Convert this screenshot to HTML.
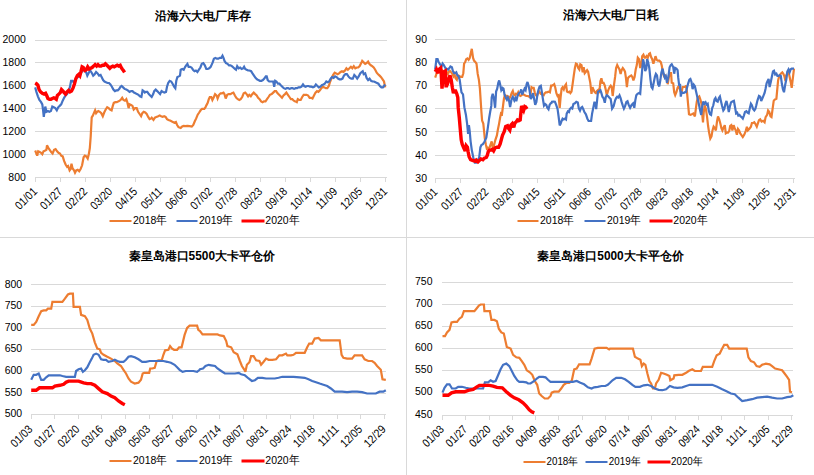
<!DOCTYPE html>
<html><head><meta charset="utf-8"><style>
html,body{margin:0;padding:0;background:#fff;width:814px;height:475px;overflow:hidden}
svg{display:block}
text{font-family:"Liberation Sans",sans-serif;fill:#000}
.tt{font-weight:bold}
</style></head><body>
<svg width="814" height="475" viewBox="0 0 814 475">
<rect width="814" height="475" fill="#fff"/>
<rect x="406" y="0" width="1" height="475" fill="#d9d9d9"/>
<rect x="0" y="237" width="814" height="1" fill="#d9d9d9"/>
<rect x="35" y="40" width="352" height="1" fill="#d9d9d9"/>
<text transform="translate(25.8 43.40) scale(1 1.12)" text-anchor="end" class="yl" style="font-size:10.5px">2000</text>
<rect x="35" y="62" width="352" height="1" fill="#d9d9d9"/>
<text transform="translate(25.8 66.28) scale(1 1.12)" text-anchor="end" class="yl" style="font-size:10.5px">1800</text>
<rect x="35" y="85" width="352" height="1" fill="#d9d9d9"/>
<text transform="translate(25.8 89.17) scale(1 1.12)" text-anchor="end" class="yl" style="font-size:10.5px">1600</text>
<rect x="35" y="108" width="352" height="1" fill="#d9d9d9"/>
<text transform="translate(25.8 112.05) scale(1 1.12)" text-anchor="end" class="yl" style="font-size:10.5px">1400</text>
<rect x="35" y="131" width="352" height="1" fill="#d9d9d9"/>
<text transform="translate(25.8 134.93) scale(1 1.12)" text-anchor="end" class="yl" style="font-size:10.5px">1200</text>
<rect x="35" y="154" width="352" height="1" fill="#d9d9d9"/>
<text transform="translate(25.8 157.82) scale(1 1.12)" text-anchor="end" class="yl" style="font-size:10.5px">1000</text>
<rect x="35" y="177" width="352" height="1" fill="#d9d9d9"/>
<text transform="translate(25.8 180.70) scale(1 1.12)" text-anchor="end" class="yl" style="font-size:10.5px">800</text>
<rect x="35" y="177" width="1" height="5" fill="#d9d9d9"/>
<text transform="translate(37.90 192.30) rotate(-45) scale(1 1.15)" text-anchor="end" class="xl" style="font-size:10.2px">01/01</text>
<rect x="60" y="177" width="1" height="5" fill="#d9d9d9"/>
<text transform="translate(62.91 192.30) rotate(-45) scale(1 1.15)" text-anchor="end" class="xl" style="font-size:10.2px">01/27</text>
<rect x="85" y="177" width="1" height="5" fill="#d9d9d9"/>
<text transform="translate(87.91 192.30) rotate(-45) scale(1 1.15)" text-anchor="end" class="xl" style="font-size:10.2px">02/22</text>
<rect x="110" y="177" width="1" height="5" fill="#d9d9d9"/>
<text transform="translate(112.92 192.30) rotate(-45) scale(1 1.15)" text-anchor="end" class="xl" style="font-size:10.2px">03/20</text>
<rect x="135" y="177" width="1" height="5" fill="#d9d9d9"/>
<text transform="translate(137.93 192.30) rotate(-45) scale(1 1.15)" text-anchor="end" class="xl" style="font-size:10.2px">04/15</text>
<rect x="160" y="177" width="1" height="5" fill="#d9d9d9"/>
<text transform="translate(162.94 192.30) rotate(-45) scale(1 1.15)" text-anchor="end" class="xl" style="font-size:10.2px">05/11</text>
<rect x="185" y="177" width="1" height="5" fill="#d9d9d9"/>
<text transform="translate(187.94 192.30) rotate(-45) scale(1 1.15)" text-anchor="end" class="xl" style="font-size:10.2px">06/06</text>
<rect x="210" y="177" width="1" height="5" fill="#d9d9d9"/>
<text transform="translate(212.95 192.30) rotate(-45) scale(1 1.15)" text-anchor="end" class="xl" style="font-size:10.2px">07/02</text>
<rect x="235" y="177" width="1" height="5" fill="#d9d9d9"/>
<text transform="translate(237.96 192.30) rotate(-45) scale(1 1.15)" text-anchor="end" class="xl" style="font-size:10.2px">07/28</text>
<rect x="260" y="177" width="1" height="5" fill="#d9d9d9"/>
<text transform="translate(262.96 192.30) rotate(-45) scale(1 1.15)" text-anchor="end" class="xl" style="font-size:10.2px">08/23</text>
<rect x="285" y="177" width="1" height="5" fill="#d9d9d9"/>
<text transform="translate(287.97 192.30) rotate(-45) scale(1 1.15)" text-anchor="end" class="xl" style="font-size:10.2px">09/18</text>
<rect x="310" y="177" width="1" height="5" fill="#d9d9d9"/>
<text transform="translate(312.98 192.30) rotate(-45) scale(1 1.15)" text-anchor="end" class="xl" style="font-size:10.2px">10/14</text>
<rect x="335" y="177" width="1" height="5" fill="#d9d9d9"/>
<text transform="translate(337.99 192.30) rotate(-45) scale(1 1.15)" text-anchor="end" class="xl" style="font-size:10.2px">11/09</text>
<rect x="360" y="177" width="1" height="5" fill="#d9d9d9"/>
<text transform="translate(362.99 192.30) rotate(-45) scale(1 1.15)" text-anchor="end" class="xl" style="font-size:10.2px">12/05</text>
<rect x="385" y="177" width="1" height="5" fill="#d9d9d9"/>
<text transform="translate(388.00 192.30) rotate(-45) scale(1 1.15)" text-anchor="end" class="xl" style="font-size:10.2px">12/31</text>
<text x="202.8" y="19.8" text-anchor="middle" class="tt" style="font-size:11.7px">沿海六大电厂库存</text>
<line x1="109.5" y1="221" x2="131.5" y2="221" stroke="#ed7d31" stroke-width="2"/>
<text transform="translate(133 224.2) scale(1 1.12)" class="lg" style="font-size:10.5px">2018年</text>
<line x1="176.5" y1="221" x2="197.5" y2="221" stroke="#4472c4" stroke-width="2"/>
<text transform="translate(199 224.2) scale(1 1.12)" class="lg" style="font-size:10.5px">2019年</text>
<line x1="241.5" y1="221" x2="264.5" y2="221" stroke="#ff0000" stroke-width="3"/>
<text transform="translate(265.3 224.2) scale(1 1.12)" class="lg" style="font-size:10.5px">2020年</text>
<polyline points="35.2,150.5 36.1,152.8 37.2,155.7 38.2,151.3 39.7,152.0 41.1,152.8 42.3,154.2 43.5,151.3 45.3,150.5 46.4,149.8 47.0,145.4 48.2,147.6 49.7,149.8 51.2,152.0 52.6,153.5 54.1,149.8 55.6,149.1 57.1,151.3 58.5,152.8 60.0,153.5 61.2,155.7 62.7,156.4 64.1,160.9 65.6,164.5 67.1,166.8 68.1,166.0 69.6,170.4 70.6,169.0 71.5,163.8 72.5,168.2 74.0,170.4 75.0,172.7 76.2,170.4 77.7,169.7 79.2,171.2 80.6,169.0 82.1,165.3 83.6,157.2 84.8,155.7 86.3,156.4 87.7,158.6 88.8,154.2 89.8,148.3 90.7,136.5 91.7,117.4 92.7,115.9 95.1,110.3 96.1,113.2 97.2,111.8 98.3,111.0 99.8,111.8 101.3,113.2 102.8,116.2 104.2,112.5 105.7,109.5 107.2,107.3 108.7,108.1 110.1,109.5 111.6,110.3 112.8,105.9 113.8,102.9 115.3,102.2 116.8,102.2 118.2,101.4 119.7,100.7 121.2,99.2 122.2,97.8 123.4,100.0 124.9,100.7 126.3,99.2 127.5,102.9 128.6,108.1 129.6,104.4 131.1,105.1 132.5,105.9 133.7,109.5 135.2,108.1 136.7,108.1 138.1,111.8 139.6,114.0 141.1,116.2 142.3,113.2 143.7,111.8 145.2,112.5 146.7,114.0 148.2,116.9 149.6,119.1 151.1,118.4 151.7,117.7 153.5,119.9 154.9,117.7 156.4,116.9 158.2,116.2 159.7,115.4 161.1,116.2 162.6,116.9 164.1,116.2 165.6,116.9 167.0,119.1 168.5,119.9 170.0,120.6 171.5,121.3 172.9,122.1 174.4,122.8 175.9,122.1 177.1,125.0 178.5,127.2 180.7,128.0 182.2,126.5 183.7,125.8 185.2,126.1 187.4,125.8 189.6,126.1 191.8,126.5 193.3,125.0 194.8,121.3 196.2,118.4 197.7,114.7 199.2,112.5 200.6,110.3 202.1,108.8 204.3,108.8 205.4,107.3 206.5,105.1 207.7,102.9 208.8,99.2 209.8,97.0 211.3,97.0 212.4,100.0 213.9,97.0 215.1,94.1 216.6,95.5 217.6,98.5 219.1,94.8 220.6,93.3 222.0,93.3 223.5,92.6 224.5,94.1 225.7,98.5 227.2,94.8 228.7,94.1 230.4,94.1 231.9,93.3 233.4,92.6 234.9,95.5 236.3,97.8 237.8,99.2 239.3,100.0 240.7,99.2 242.2,97.0 243.7,93.3 245.2,92.6 246.6,94.1 248.1,96.3 249.3,94.8 250.8,96.3 252.2,94.1 253.7,92.6 255.2,94.1 256.7,95.5 258.1,97.8 259.6,99.2 261.1,101.4 262.6,102.2 264.0,101.4 265.5,101.4 267.0,99.2 268.5,97.0 269.9,94.8 271.7,94.1 273.2,92.6 274.7,91.1 276.1,91.1 277.6,93.3 279.1,94.8 280.6,96.3 282.0,97.8 283.5,95.5 285.0,94.1 286.4,92.6 287.9,94.8 289.4,97.0 290.9,99.2 292.3,99.2 293.8,100.7 295.3,101.4 296.8,102.2 297.8,99.2 299.3,100.0 300.7,100.0 302.2,97.0 303.7,94.8 305.2,94.8 306.6,94.8 308.1,95.5 309.6,97.8 311.1,97.8 312.5,98.5 314.0,95.5 315.5,92.6 317.0,91.1 318.4,91.9 319.9,90.4 321.4,88.2 322.9,86.7 324.3,87.4 325.8,88.2 327.3,88.2 328.8,86.0 330.2,81.5 331.7,77.9 333.2,74.9 334.7,72.7 336.1,73.4 337.6,74.2 339.1,73.4 340.6,72.0 342.0,71.2 343.5,72.0 345.0,70.5 346.4,68.3 347.9,69.7 349.4,68.3 350.9,66.8 352.3,68.3 353.8,66.1 355.3,68.3 356.8,67.5 358.2,67.5 359.7,66.1 361.2,63.1 362.2,60.9 363.7,62.4 365.2,63.8 366.6,63.1 368.1,61.6 369.3,63.8 370.8,65.3 372.2,66.1 373.7,67.5 375.2,69.7 376.7,72.7 378.1,74.2 379.6,75.6 381.1,77.1 382.6,79.3 384.0,81.5 385.2,87.4" fill="none" stroke="#ed7d31" stroke-width="2.2" stroke-linejoin="miter" stroke-miterlimit="3" stroke-linecap="butt"/>
<polyline points="35.2,87.4 36.4,91.9 37.9,96.3 39.4,100.0 41.1,102.2 42.3,104.4 43.1,110.3 43.8,116.9 44.5,111.0 45.3,106.6 46.4,111.8 47.9,111.0 49.4,111.8 50.9,111.0 52.3,106.6 53.8,107.3 55.3,108.1 56.8,110.3 58.2,107.3 59.7,105.9 61.2,104.4 62.7,100.7 64.1,97.8 65.6,95.5 67.1,94.1 68.6,91.1 70.0,86.7 71.1,80.8 72.5,80.8 73.6,82.3 75.0,80.1 76.5,77.9 78.0,77.1 79.5,74.9 80.9,72.7 82.4,71.2 83.6,69.0 85.1,70.5 86.3,72.7 87.3,75.6 88.8,72.7 90.2,70.5 91.7,72.7 93.2,75.6 94.7,74.2 96.1,72.0 97.6,73.4 99.1,75.6 100.6,74.9 101.6,77.1 103.1,80.1 104.5,81.5 106.0,82.3 107.5,83.0 109.0,83.0 110.4,84.5 111.9,86.7 113.4,89.6 114.9,91.1 116.3,90.4 117.8,90.4 119.3,88.9 120.5,86.7 121.6,86.0 123.1,87.4 124.6,88.9 126.3,89.6 127.8,90.4 129.6,91.9 131.1,91.1 132.5,91.1 134.0,92.6 135.5,93.3 137.0,94.1 138.4,94.8 139.9,96.3 141.4,97.0 142.6,90.4 143.7,91.1 144.8,92.6 145.8,91.9 147.3,91.9 148.8,94.1 150.2,95.5 151.7,97.0 153.2,94.1 154.2,91.1 155.7,89.6 157.2,91.1 158.6,92.6 160.1,94.1 161.6,91.1 163.1,91.9 164.5,92.6 166.0,91.9 167.0,86.7 168.2,83.0 169.7,80.8 171.2,81.5 172.6,83.7 174.1,86.7 175.3,88.2 176.3,80.8 177.4,77.1 178.8,76.4 180.0,75.6 180.7,69.7 182.2,69.0 183.7,69.7 185.2,66.8 186.2,65.3 187.4,63.8 188.6,66.8 190.0,66.8 191.5,67.5 193.0,69.7 194.5,71.2 195.9,70.5 197.4,72.0 198.9,69.7 200.4,67.5 201.8,63.8 203.3,63.1 204.8,65.3 206.3,69.0 207.7,69.0 209.2,68.3 210.7,66.8 211.7,64.6 212.7,62.4 213.9,58.7 215.4,57.9 216.9,58.7 218.3,58.7 219.8,57.9 221.3,57.9 222.5,55.7 223.5,57.9 224.5,60.9 226.0,63.1 227.5,63.8 229.0,65.3 230.4,65.3 231.9,66.1 233.4,67.5 234.9,69.0 236.0,69.7 237.2,66.1 238.7,68.3 240.2,67.5 241.6,69.0 243.1,68.3 244.1,66.8 245.2,69.0 246.6,69.7 248.1,70.5 249.6,70.5 251.1,71.2 252.5,73.4 254.0,75.6 255.5,77.9 257.0,79.3 258.4,80.1 259.9,80.8 261.4,80.8 262.9,80.1 264.3,78.6 265.8,76.4 266.7,76.4 267.7,80.1 269.2,81.5 270.7,81.5 271.7,81.5 273.2,81.5 274.2,86.7 275.2,80.8 276.4,81.5 277.9,83.7 279.4,83.7 280.8,85.2 282.3,86.7 283.8,88.2 285.3,88.9 286.7,88.2 288.2,88.2 289.7,88.9 291.2,88.2 292.6,88.2 294.1,88.9 295.6,88.2 297.1,88.2 298.5,87.4 300.0,87.4 301.5,86.7 303.0,84.5 304.1,86.0 305.6,86.7 307.1,86.0 308.6,86.0 310.0,86.7 311.5,86.7 313.0,87.4 314.5,86.7 315.9,84.5 317.4,86.0 318.9,87.4 320.4,86.7 321.8,85.2 323.3,84.5 324.8,83.7 326.3,81.5 327.7,82.3 329.2,81.5 330.7,78.6 332.1,77.1 333.6,77.9 335.1,76.4 336.6,77.1 338.0,78.6 339.5,79.3 341.0,79.3 342.5,78.6 343.9,75.6 345.4,74.2 346.9,74.2 348.4,76.4 349.8,77.9 351.3,78.6 352.8,78.6 354.3,74.9 355.7,76.4 357.2,78.6 358.7,76.4 360.2,73.4 361.6,72.0 362.7,71.2 363.7,74.2 365.2,73.4 366.6,77.9 368.1,80.1 369.6,78.6 371.1,80.8 372.5,81.5 374.0,81.5 375.5,82.3 377.0,83.0 378.4,83.7 379.9,86.0 381.4,87.4 382.9,87.4 384.0,86.0 385.2,84.5" fill="none" stroke="#4472c4" stroke-width="2.2" stroke-linejoin="miter" stroke-miterlimit="3" stroke-linecap="butt"/>
<polyline points="35.2,83.0 36.4,83.7 37.9,85.2 39.1,89.6 40.6,91.9 42.3,93.3 44.1,94.1 45.6,93.3 46.7,95.5 47.9,98.5 49.4,99.2 50.9,99.2 52.3,98.5 53.8,97.8 55.3,98.5 56.3,99.2 57.4,95.5 58.8,94.1 60.3,92.6 61.5,89.6 63.0,91.1 64.1,92.6 65.6,94.1 67.1,91.9 68.6,90.4 70.0,91.9 71.5,91.1 73.0,88.2 74.5,83.7 75.9,78.6 77.4,75.6 78.9,74.2 79.9,75.6 80.9,72.0 82.1,66.8 83.3,67.5 84.8,70.5 86.3,69.7 87.7,66.8 89.2,69.0 90.7,68.3 92.1,67.5 93.6,66.1 95.1,64.6 96.6,66.1 98.0,64.6 99.5,66.1 101.0,66.1 102.5,65.3 103.9,65.3 105.4,63.8 106.9,65.3 108.4,66.8 109.8,68.3 111.3,66.8 112.8,66.1 114.3,66.8 115.7,66.1 117.2,65.3 118.7,66.1 120.2,65.3 121.2,67.5 122.2,69.0 123.4,70.5 124.6,72.4" fill="none" stroke="#ff0000" stroke-width="3.4" stroke-linejoin="miter" stroke-miterlimit="3" stroke-linecap="butt"/>
<rect x="435" y="39" width="360" height="1" fill="#d9d9d9"/>
<text transform="translate(427 43.10) scale(1 1.12)" text-anchor="end" class="yl" style="font-size:10.5px">90</text>
<rect x="435" y="62" width="360" height="1" fill="#d9d9d9"/>
<text transform="translate(427 66.25) scale(1 1.12)" text-anchor="end" class="yl" style="font-size:10.5px">80</text>
<rect x="435" y="85" width="360" height="1" fill="#d9d9d9"/>
<text transform="translate(427 89.40) scale(1 1.12)" text-anchor="end" class="yl" style="font-size:10.5px">70</text>
<rect x="435" y="108" width="360" height="1" fill="#d9d9d9"/>
<text transform="translate(427 112.55) scale(1 1.12)" text-anchor="end" class="yl" style="font-size:10.5px">60</text>
<rect x="435" y="131" width="360" height="1" fill="#d9d9d9"/>
<text transform="translate(427 135.70) scale(1 1.12)" text-anchor="end" class="yl" style="font-size:10.5px">50</text>
<rect x="435" y="155" width="360" height="1" fill="#d9d9d9"/>
<text transform="translate(427 158.85) scale(1 1.12)" text-anchor="end" class="yl" style="font-size:10.5px">40</text>
<rect x="435" y="178" width="360" height="1" fill="#d9d9d9"/>
<text transform="translate(427 182.00) scale(1 1.12)" text-anchor="end" class="yl" style="font-size:10.5px">30</text>
<rect x="435" y="178" width="1" height="5" fill="#d9d9d9"/>
<text transform="translate(438.20 192.80) rotate(-45) scale(1 1.15)" text-anchor="end" class="xl" style="font-size:10.2px">01/01</text>
<rect x="460" y="178" width="1" height="5" fill="#d9d9d9"/>
<text transform="translate(463.79 192.80) rotate(-45) scale(1 1.15)" text-anchor="end" class="xl" style="font-size:10.2px">01/27</text>
<rect x="486" y="178" width="1" height="5" fill="#d9d9d9"/>
<text transform="translate(489.37 192.80) rotate(-45) scale(1 1.15)" text-anchor="end" class="xl" style="font-size:10.2px">02/22</text>
<rect x="512" y="178" width="1" height="5" fill="#d9d9d9"/>
<text transform="translate(514.96 192.80) rotate(-45) scale(1 1.15)" text-anchor="end" class="xl" style="font-size:10.2px">03/20</text>
<rect x="537" y="178" width="1" height="5" fill="#d9d9d9"/>
<text transform="translate(540.54 192.80) rotate(-45) scale(1 1.15)" text-anchor="end" class="xl" style="font-size:10.2px">04/15</text>
<rect x="563" y="178" width="1" height="5" fill="#d9d9d9"/>
<text transform="translate(566.13 192.80) rotate(-45) scale(1 1.15)" text-anchor="end" class="xl" style="font-size:10.2px">05/11</text>
<rect x="588" y="178" width="1" height="5" fill="#d9d9d9"/>
<text transform="translate(591.71 192.80) rotate(-45) scale(1 1.15)" text-anchor="end" class="xl" style="font-size:10.2px">06/06</text>
<rect x="614" y="178" width="1" height="5" fill="#d9d9d9"/>
<text transform="translate(617.30 192.80) rotate(-45) scale(1 1.15)" text-anchor="end" class="xl" style="font-size:10.2px">07/02</text>
<rect x="640" y="178" width="1" height="5" fill="#d9d9d9"/>
<text transform="translate(642.89 192.80) rotate(-45) scale(1 1.15)" text-anchor="end" class="xl" style="font-size:10.2px">07/28</text>
<rect x="665" y="178" width="1" height="5" fill="#d9d9d9"/>
<text transform="translate(668.47 192.80) rotate(-45) scale(1 1.15)" text-anchor="end" class="xl" style="font-size:10.2px">08/23</text>
<rect x="691" y="178" width="1" height="5" fill="#d9d9d9"/>
<text transform="translate(694.06 192.80) rotate(-45) scale(1 1.15)" text-anchor="end" class="xl" style="font-size:10.2px">09/18</text>
<rect x="716" y="178" width="1" height="5" fill="#d9d9d9"/>
<text transform="translate(719.64 192.80) rotate(-45) scale(1 1.15)" text-anchor="end" class="xl" style="font-size:10.2px">10/14</text>
<rect x="742" y="178" width="1" height="5" fill="#d9d9d9"/>
<text transform="translate(745.23 192.80) rotate(-45) scale(1 1.15)" text-anchor="end" class="xl" style="font-size:10.2px">11/09</text>
<rect x="768" y="178" width="1" height="5" fill="#d9d9d9"/>
<text transform="translate(770.81 192.80) rotate(-45) scale(1 1.15)" text-anchor="end" class="xl" style="font-size:10.2px">12/05</text>
<rect x="793" y="178" width="1" height="5" fill="#d9d9d9"/>
<text transform="translate(796.40 192.80) rotate(-45) scale(1 1.15)" text-anchor="end" class="xl" style="font-size:10.2px">12/31</text>
<text x="610.8" y="18.6" text-anchor="middle" class="tt" style="font-size:11.7px">沿海六大电厂日耗</text>
<line x1="517.5" y1="221" x2="538.5" y2="221" stroke="#ed7d31" stroke-width="2"/>
<text transform="translate(540 224.2) scale(1 1.12)" class="lg" style="font-size:10.5px">2018年</text>
<line x1="584.5" y1="221" x2="605.5" y2="221" stroke="#4472c4" stroke-width="2"/>
<text transform="translate(607 224.2) scale(1 1.12)" class="lg" style="font-size:10.5px">2019年</text>
<line x1="649.5" y1="221" x2="672.5" y2="221" stroke="#ff0000" stroke-width="3"/>
<text transform="translate(673.3 224.2) scale(1 1.12)" class="lg" style="font-size:10.5px">2020年</text>
<polyline points="435.2,77.6 436.4,73.9 437.6,71.7 438.6,70.2 440.1,70.2 441.1,68.7 442.3,71.0 443.1,73.9 444.1,72.4 445.0,73.2 446.0,69.5 446.7,71.7 447.9,73.9 449.0,71.7 450.0,71.0 451.2,72.4 452.3,73.9 453.4,76.1 454.4,73.9 455.6,78.3 456.8,79.8 457.8,75.4 459.3,76.1 460.7,76.9 462.2,76.9 463.3,73.2 464.1,63.6 465.2,62.1 466.2,59.2 467.4,58.4 468.6,59.9 469.6,58.4 470.6,54.0 471.8,48.8 473.0,57.7 474.0,60.6 475.5,62.1 476.5,63.6 477.7,73.9 478.9,79.8 479.9,88.6 481.4,111.8 482.1,120.6 483.3,123.6 483.9,129.5 484.8,138.3 485.8,144.2 486.8,148.6 487.7,147.9 488.8,150.1 490.2,145.7 491.7,141.3 492.7,147.9 493.9,145.7 495.4,139.8 496.9,135.4 497.9,129.5 499.1,123.6 500.1,117.7 501.0,113.3 502.0,114.0 503.9,99.0 505.0,94.5 506.0,97.5 507.2,96.0 508.4,96.8 509.4,98.2 510.4,96.8 511.6,93.1 512.8,90.9 513.8,94.5 514.9,95.3 516.0,93.8 517.2,94.5 518.2,92.3 519.3,95.3 520.5,96.0 521.6,95.3 522.7,93.8 523.7,94.5 524.9,95.3 526.3,96.0 527.8,96.0 529.3,96.8 530.5,94.5 531.5,87.2 532.5,87.9 533.7,87.9 534.9,93.1 535.9,95.3 537.0,96.0 538.1,93.1 539.3,91.6 540.8,93.8 542.3,94.5 543.7,95.3 544.8,93.1 545.8,92.3 547.0,92.3 548.5,91.6 549.9,92.3 551.1,85.7 552.0,85.7 553.2,85.0 554.2,84.2 555.2,87.2 556.4,93.1 557.6,96.0 558.6,95.3 559.7,107.8 560.6,97.5 561.6,88.6 562.6,87.2 563.8,89.4 565.0,85.7 566.0,84.2 567.0,91.6 568.2,92.3 569.4,91.6 570.4,93.1 571.5,91.6 572.6,84.2 573.8,75.4 574.9,68.0 575.9,63.6 577.1,64.3 578.2,68.0 579.3,69.5 580.3,64.3 581.5,65.1 582.7,72.4 583.7,67.3 584.7,73.2 585.9,71.7 587.1,70.2 588.1,71.7 589.1,76.9 590.3,82.8 591.5,93.8 592.5,87.2 593.6,90.1 594.8,92.3 595.9,93.1 597.0,90.9 598.0,90.1 599.2,93.1 600.4,81.3 601.4,78.3 602.4,82.8 603.6,82.8 604.8,85.7 605.8,90.1 606.8,95.3 608.0,90.9 609.5,87.2 610.7,85.7 611.7,87.2 612.7,96.0 613.9,85.7 615.1,76.9 616.1,68.0 617.2,65.1 618.3,67.3 619.5,69.5 620.6,73.9 621.6,70.2 622.8,68.0 623.9,69.5 625.0,71.7 626.0,78.3 626.9,87.2 627.9,78.3 629.0,76.9 630.1,76.1 631.3,75.4 632.3,76.9 633.4,80.5 634.6,76.9 635.7,69.5 636.8,65.1 637.8,57.7 639.0,59.2 640.2,68.0 641.2,65.1 642.2,56.2 643.4,54.7 644.6,57.7 645.6,57.7 646.6,56.2 647.8,57.7 649.0,54.0 650.0,53.3 651.1,57.0 652.2,59.2 653.4,63.6 654.5,59.9 655.5,56.2 656.7,59.9 657.8,60.6 659.3,60.6 660.8,62.1 661.8,65.8 662.9,72.4 664.0,76.1 665.2,75.4 666.7,77.6 667.7,84.2 668.8,77.6 669.9,73.2 671.1,73.2 671.7,82.8 673.2,83.3 674.2,92.2 675.2,95.1 676.4,92.2 677.6,87.8 678.6,86.3 679.7,88.5 680.6,91.4 681.6,92.2 682.6,87.0 683.8,87.0 685.3,87.0 686.0,85.5 687.0,92.2 689.0,114.2 690.4,114.9 691.9,114.2 693.4,113.4 694.9,116.4 695.9,108.3 696.8,101.6 697.8,97.9 699.3,96.5 700.3,99.4 701.5,103.8 702.2,114.2 703.0,122.3 703.7,112.7 704.7,105.3 705.9,109.0 707.1,117.1 708.1,126.0 709.1,132.6 710.3,138.5 711.5,136.3 712.5,130.4 713.6,126.7 714.8,128.2 715.9,130.4 717.0,121.5 718.0,116.4 719.2,119.3 720.4,123.7 721.4,128.2 722.4,130.4 723.6,127.4 724.8,125.2 725.8,133.3 726.8,132.6 728.0,132.6 729.2,131.1 730.2,126.0 731.3,125.2 732.4,130.4 733.6,125.2 734.7,128.2 735.7,130.4 736.9,134.8 738.0,128.9 739.1,130.4 740.1,133.3 741.3,134.8 742.8,137.0 744.2,134.8 745.7,131.1 746.9,126.7 747.9,130.4 749.4,128.9 750.9,126.7 751.9,123.0 753.1,123.0 754.3,122.3 755.3,123.7 756.8,126.7 757.8,123.7 759.0,120.1 760.2,119.3 761.6,121.5 763.1,120.8 764.6,122.3 765.6,117.1 767.1,114.9 768.1,110.5 769.3,112.0 770.5,116.4 771.5,117.1 772.5,109.7 773.7,100.9 774.9,99.4 776.4,98.7 778.1,80.4 779.3,76.0 780.8,73.7 782.3,72.3 783.3,73.7 784.3,76.0 785.5,81.1 786.3,75.2 787.3,73.0 788.5,71.5 789.6,76.7 790.7,81.9 791.7,87.8 794.0,68.7" fill="none" stroke="#ed7d31" stroke-width="2.2" stroke-linejoin="miter" stroke-miterlimit="3" stroke-linecap="butt"/>
<polyline points="435.2,69.5 436.4,59.2 437.6,59.2 438.6,62.1 440.1,64.3 441.6,66.5 442.6,63.6 443.8,65.1 445.3,68.0 446.7,68.7 448.2,69.5 449.4,68.0 450.4,66.5 451.9,67.3 452.9,71.0 454.1,73.2 455.3,73.2 456.3,72.4 457.4,75.4 458.5,76.1 459.7,79.8 460.7,87.2 461.5,92.3 463.0,94.5 464.4,107.4 465.9,114.7 467.1,123.6 468.1,133.9 468.9,125.1 469.7,131.0 470.6,141.3 471.8,150.1 473.3,157.5 474.8,162.7 476.2,162.7 477.7,160.4 479.2,157.5 480.4,147.2 481.4,145.0 482.9,144.2 484.3,142.0 486.3,137.6 487.7,128.7 489.2,117.7 490.2,111.8 491.3,105.9 491.7,97.5 492.7,93.8 493.9,98.2 495.1,107.8 496.1,91.6 497.2,88.6 498.3,82.8 499.2,80.5 500.1,84.2 501.3,90.1 502.5,87.9 503.5,88.6 504.5,94.5 505.7,97.5 506.9,99.7 507.9,97.5 509.0,100.4 510.1,107.1 511.6,99.0 512.8,96.8 514.3,100.4 515.3,98.2 516.3,101.2 517.5,96.0 519.0,93.1 520.2,92.3 521.2,89.4 522.2,94.5 523.4,91.6 524.6,88.6 525.6,90.1 526.6,84.2 527.5,82.0 528.6,85.7 529.6,90.9 530.8,99.0 532.0,96.8 533.0,93.1 534.0,98.2 535.2,104.9 536.4,101.9 537.4,94.5 538.4,90.1 539.6,86.4 540.8,85.7 541.8,91.6 542.9,99.0 544.0,105.6 545.2,104.1 546.3,104.9 547.3,107.8 548.5,109.3 549.6,104.9 550.7,103.4 551.7,102.7 552.0,101.8 553.5,101.5 554.9,101.8 556.1,104.7 557.6,109.2 558.6,116.5 559.7,125.4 560.6,123.9 561.6,121.0 562.6,118.7 563.8,119.5 565.0,118.7 566.0,119.5 566.7,113.6 567.9,111.4 569.0,112.1 569.7,109.2 571.2,107.7 572.3,108.4 573.4,104.0 574.9,103.3 576.3,101.8 577.8,102.5 578.8,108.4 580.0,110.6 581.2,107.7 582.2,107.0 583.3,109.2 584.4,112.1 585.9,114.3 587.4,118.7 588.6,121.0 590.0,121.0 591.1,121.0 592.1,113.6 593.3,107.7 594.5,101.8 595.5,104.7 596.2,109.2 598.0,91.6 599.2,90.9 600.4,90.1 601.4,93.1 602.4,96.8 603.6,98.2 604.8,102.7 605.8,96.8 606.8,95.3 608.0,96.0 609.2,97.5 610.7,99.0 612.1,108.6 613.6,106.3 615.1,100.4 616.1,98.2 617.2,96.8 618.3,97.5 619.5,95.3 620.6,98.2 621.6,101.9 622.8,105.6 623.9,108.6 625.0,106.3 626.4,101.9 627.5,101.2 628.7,104.9 630.1,107.8 631.6,104.9 633.1,103.4 634.3,107.8 635.3,100.4 636.3,95.3 637.5,93.8 639.0,93.1 640.2,93.8 641.2,81.3 642.2,69.5 643.1,59.2 644.1,63.6 645.2,71.0 646.3,68.7 647.1,59.2 648.1,62.1 649.3,68.0 650.5,79.8 651.5,87.2 652.5,88.6 653.7,82.8 654.9,76.9 655.9,73.9 657.0,75.4 658.1,84.2 659.3,86.4 660.4,79.8 661.4,72.4 662.6,68.7 663.7,73.9 664.8,77.6 665.8,76.1 667.0,82.8 668.5,76.1 669.6,67.3 670.7,65.1 671.7,64.3 673.2,67.1 674.2,73.7 675.2,67.9 676.4,68.6 677.6,70.1 678.2,77.4 679.1,84.8 680.1,84.8 680.8,96.6 681.6,92.2 682.6,92.9 683.8,92.9 685.0,92.2 686.0,92.2 687.0,87.8 688.2,83.3 689.4,79.6 690.4,78.9 691.5,81.9 692.6,89.2 693.8,84.8 694.9,86.3 695.9,90.7 697.1,95.9 698.8,103.8 700.0,109.7 701.2,114.9 702.2,106.8 703.3,101.6 704.4,103.8 705.6,102.4 706.6,104.6 707.7,103.8 708.9,111.2 710.0,114.2 711.1,114.9 712.1,108.3 713.3,105.3 714.5,99.4 715.5,97.9 716.5,100.9 717.7,101.6 718.9,97.9 719.9,96.5 720.9,100.9 722.1,106.1 723.3,110.5 724.3,109.0 725.4,103.8 726.5,100.9 727.7,106.1 728.8,112.0 729.8,106.8 731.0,102.4 732.4,101.6 733.9,100.9 735.1,107.5 736.1,113.4 737.2,112.7 738.3,115.6 739.5,114.9 740.6,116.4 741.6,117.1 742.8,118.6 743.9,115.6 745.0,112.0 746.4,111.2 747.5,112.7 748.7,113.4 749.8,108.3 750.9,103.8 751.9,105.3 753.1,109.0 754.3,110.5 755.3,109.0 756.3,105.3 757.5,100.3 759.0,95.9 760.2,96.6 761.2,101.0 762.2,98.8 763.4,95.9 764.6,92.9 765.6,88.5 766.6,83.3 767.5,81.1 768.6,78.9 769.6,87.0 770.8,81.9 772.0,76.0 773.0,71.5 774.0,70.8 775.2,74.5 776.4,73.7 777.4,76.0 778.4,76.0 779.6,75.2 780.8,76.0 781.8,83.3 782.9,89.2 784.0,92.2 785.2,84.8 786.3,79.6 787.3,71.5 788.5,69.3 789.6,72.3 790.7,69.3 791.7,68.6 794.0,68.7" fill="none" stroke="#4472c4" stroke-width="2.2" stroke-linejoin="miter" stroke-miterlimit="3" stroke-linecap="butt"/>
<polyline points="435.2,71.7 436.4,69.5 437.6,73.2 438.6,70.2 439.7,68.7 440.6,68.0 441.1,71.7 442.0,88.6 443.1,76.9 444.1,71.7 445.3,71.0 446.0,85.7 446.7,85.7 447.9,82.8 449.0,78.3 450.0,75.4 451.2,79.8 452.3,87.2 453.4,93.1 454.4,90.9 455.6,90.9 456.8,93.8 457.8,97.5 458.2,107.4 459.3,117.7 460.3,129.5 461.2,139.8 462.2,144.2 463.7,147.9 465.2,150.9 466.2,145.7 467.4,147.2 468.1,151.6 469.1,156.8 470.6,159.7 472.5,160.4 474.8,161.2 476.2,160.1 478.0,161.9 479.5,160.4 480.9,159.0 482.9,159.7 484.3,158.2 486.3,157.5 487.3,155.3 488.3,151.6 489.5,150.1 491.0,150.1 492.4,149.4 493.6,150.9 495.1,147.9 496.9,147.2 498.6,147.2 500.1,144.2 501.3,139.8 502.5,135.4 504.2,131.7 505.7,126.5 507.5,125.8 508.7,128.7 509.8,130.2 510.9,125.1 512.3,123.6 513.8,127.3 514.9,122.9 516.0,122.1 517.5,119.9 519.0,120.6 520.2,119.9 520.7,114.7 521.6,105.9 522.7,108.1 523.7,110.3 524.9,106.6 526.3,107.4 527.5,106.6" fill="none" stroke="#ff0000" stroke-width="3.4" stroke-linejoin="miter" stroke-miterlimit="3" stroke-linecap="butt"/>
<rect x="31" y="284" width="355" height="1" fill="#d9d9d9"/>
<text transform="translate(22.2 287.50) scale(1 1.12)" text-anchor="end" class="yl" style="font-size:10.5px">800</text>
<rect x="31" y="306" width="355" height="1" fill="#d9d9d9"/>
<text transform="translate(22.2 309.13) scale(1 1.12)" text-anchor="end" class="yl" style="font-size:10.5px">750</text>
<rect x="31" y="328" width="355" height="1" fill="#d9d9d9"/>
<text transform="translate(22.2 330.77) scale(1 1.12)" text-anchor="end" class="yl" style="font-size:10.5px">700</text>
<rect x="31" y="349" width="355" height="1" fill="#d9d9d9"/>
<text transform="translate(22.2 352.40) scale(1 1.12)" text-anchor="end" class="yl" style="font-size:10.5px">650</text>
<rect x="31" y="371" width="355" height="1" fill="#d9d9d9"/>
<text transform="translate(22.2 374.03) scale(1 1.12)" text-anchor="end" class="yl" style="font-size:10.5px">600</text>
<rect x="31" y="393" width="355" height="1" fill="#d9d9d9"/>
<text transform="translate(22.2 395.67) scale(1 1.12)" text-anchor="end" class="yl" style="font-size:10.5px">550</text>
<rect x="31" y="414" width="355" height="1" fill="#d9d9d9"/>
<text transform="translate(22.2 417.30) scale(1 1.12)" text-anchor="end" class="yl" style="font-size:10.5px">500</text>
<rect x="31" y="414" width="1" height="5" fill="#d9d9d9"/>
<text transform="translate(33.30 430.00) rotate(-45) scale(1 1.15)" text-anchor="end" class="xl" style="font-size:10.2px">01/03</text>
<rect x="54" y="414" width="1" height="5" fill="#d9d9d9"/>
<text transform="translate(56.85 430.00) rotate(-45) scale(1 1.15)" text-anchor="end" class="xl" style="font-size:10.2px">01/27</text>
<rect x="78" y="414" width="1" height="5" fill="#d9d9d9"/>
<text transform="translate(80.39 430.00) rotate(-45) scale(1 1.15)" text-anchor="end" class="xl" style="font-size:10.2px">02/20</text>
<rect x="101" y="414" width="1" height="5" fill="#d9d9d9"/>
<text transform="translate(103.94 430.00) rotate(-45) scale(1 1.15)" text-anchor="end" class="xl" style="font-size:10.2px">03/16</text>
<rect x="125" y="414" width="1" height="5" fill="#d9d9d9"/>
<text transform="translate(127.49 430.00) rotate(-45) scale(1 1.15)" text-anchor="end" class="xl" style="font-size:10.2px">04/09</text>
<rect x="149" y="414" width="1" height="5" fill="#d9d9d9"/>
<text transform="translate(151.03 430.00) rotate(-45) scale(1 1.15)" text-anchor="end" class="xl" style="font-size:10.2px">05/03</text>
<rect x="172" y="414" width="1" height="5" fill="#d9d9d9"/>
<text transform="translate(174.58 430.00) rotate(-45) scale(1 1.15)" text-anchor="end" class="xl" style="font-size:10.2px">05/27</text>
<rect x="196" y="414" width="1" height="5" fill="#d9d9d9"/>
<text transform="translate(198.13 430.00) rotate(-45) scale(1 1.15)" text-anchor="end" class="xl" style="font-size:10.2px">06/20</text>
<rect x="219" y="414" width="1" height="5" fill="#d9d9d9"/>
<text transform="translate(221.67 430.00) rotate(-45) scale(1 1.15)" text-anchor="end" class="xl" style="font-size:10.2px">07/14</text>
<rect x="243" y="414" width="1" height="5" fill="#d9d9d9"/>
<text transform="translate(245.22 430.00) rotate(-45) scale(1 1.15)" text-anchor="end" class="xl" style="font-size:10.2px">08/07</text>
<rect x="266" y="414" width="1" height="5" fill="#d9d9d9"/>
<text transform="translate(268.77 430.00) rotate(-45) scale(1 1.15)" text-anchor="end" class="xl" style="font-size:10.2px">08/31</text>
<rect x="290" y="414" width="1" height="5" fill="#d9d9d9"/>
<text transform="translate(292.31 430.00) rotate(-45) scale(1 1.15)" text-anchor="end" class="xl" style="font-size:10.2px">09/24</text>
<rect x="313" y="414" width="1" height="5" fill="#d9d9d9"/>
<text transform="translate(315.86 430.00) rotate(-45) scale(1 1.15)" text-anchor="end" class="xl" style="font-size:10.2px">10/18</text>
<rect x="337" y="414" width="1" height="5" fill="#d9d9d9"/>
<text transform="translate(339.41 430.00) rotate(-45) scale(1 1.15)" text-anchor="end" class="xl" style="font-size:10.2px">11/11</text>
<rect x="360" y="414" width="1" height="5" fill="#d9d9d9"/>
<text transform="translate(362.95 430.00) rotate(-45) scale(1 1.15)" text-anchor="end" class="xl" style="font-size:10.2px">12/05</text>
<rect x="384" y="414" width="1" height="5" fill="#d9d9d9"/>
<text transform="translate(386.50 430.00) rotate(-45) scale(1 1.15)" text-anchor="end" class="xl" style="font-size:10.2px">12/29</text>
<text x="201.8" y="260.0" text-anchor="middle" class="tt" style="font-size:11.9px">秦皇岛港口5500大卡平仓价</text>
<line x1="109.5" y1="461" x2="131.5" y2="461" stroke="#ed7d31" stroke-width="2"/>
<text transform="translate(133 464.2) scale(1 1.12)" class="lg" style="font-size:10.5px">2018年</text>
<line x1="176.5" y1="461" x2="197.5" y2="461" stroke="#4472c4" stroke-width="2"/>
<text transform="translate(199 464.2) scale(1 1.12)" class="lg" style="font-size:10.5px">2019年</text>
<line x1="241.5" y1="461" x2="264.5" y2="461" stroke="#ff0000" stroke-width="3"/>
<text transform="translate(265.3 464.2) scale(1 1.12)" class="lg" style="font-size:10.5px">2020年</text>
<polyline points="31.2,324.9 33.7,324.9 36.2,321.9 38.7,316.2 41.2,311.2 43.7,310.4 46.2,310.4 47.9,308.7 51.2,308.7 52.4,301.9 54.9,301.9 58.7,301.9 62.4,301.9 64.9,298.7 67.9,294.5 69.9,293.7 72.9,293.7 73.6,306.9 77.4,306.9 79.9,306.9 81.1,314.9 84.9,316.2 87.3,319.9 89.8,328.6 92.3,333.6 94.8,342.3 97.3,348.6 99.8,349.3 101.1,352.8 103.6,354.8 107.3,356.8 111.0,358.6 114.8,361.0 117.3,363.5 121.0,366.0 123.5,369.8 126.0,373.5 128.5,378.5 131.0,381.7 134.7,383.5 138.5,382.7 141.0,379.8 142.7,373.5 144.2,372.8 147.2,372.8 149.2,372.8 150.2,368.5 152.2,368.5 154.7,367.8 156.7,361.0 158.4,360.3 161.7,360.3 163.4,354.8 165.1,350.3 168.4,349.8 170.1,346.1 172.1,348.6 174.1,349.8 177.1,349.8 179.1,347.3 181.6,347.3 184.6,334.9 187.1,327.9 189.6,325.6 192.1,325.6 194.6,325.6 197.1,325.6 198.3,329.9 200.0,331.1 202.5,334.4 206.2,334.4 210.0,334.4 213.7,334.4 217.5,334.4 220.0,335.4 223.7,336.1 226.2,341.1 227.4,346.1 231.2,347.3 233.7,352.3 237.4,354.3 239.9,361.0 241.9,366.0 244.4,369.8 245.4,371.8 246.9,364.8 249.4,362.3 251.1,356.1 253.6,356.1 256.1,360.3 259.4,361.0 261.1,364.8 263.6,361.8 266.1,358.6 268.6,359.8 272.3,359.8 276.1,359.3 279.3,355.3 282.3,355.3 286.0,353.6 287.3,355.3 291.0,355.3 293.5,354.8 296.0,352.8 299.8,352.8 304.7,352.8 307.2,347.3 309.2,343.6 312.2,343.6 314.7,338.6 318.5,337.9 320.9,340.3 324.7,340.3 329.7,340.3 334.7,340.3 339.7,340.3 341.6,354.8 343.4,357.8 347.1,358.6 352.1,358.6 354.6,355.3 359.6,355.3 362.1,355.3 364.6,359.3 368.3,361.0 372.1,361.0 374.6,362.8 377.1,366.0 380.8,369.8 382.5,379.3 385.8,379.8" fill="none" stroke="#ed7d31" stroke-width="2.2" stroke-linejoin="miter" stroke-miterlimit="3" stroke-linecap="butt"/>
<polyline points="31.2,379.8 33.7,374.8 36.2,374.8 38.7,373.5 41.2,379.8 43.7,379.8 46.2,377.3 48.7,375.3 52.4,375.3 56.2,375.3 59.9,375.3 62.4,376.0 66.1,376.8 69.9,376.8 73.6,376.8 74.9,376.8 76.1,371.0 78.6,369.3 81.1,368.5 82.9,371.8 84.9,370.3 87.3,367.3 89.8,362.3 91.8,358.6 93.6,354.8 96.1,353.6 98.6,354.8 101.1,359.3 103.6,359.8 106.0,359.8 108.5,361.8 112.3,361.0 114.8,359.8 117.3,361.0 119.8,361.8 123.5,361.8 126.0,359.8 128.5,356.8 131.0,356.1 134.7,357.3 138.5,359.3 142.2,361.8 145.9,361.8 149.7,361.0 152.2,361.0 155.9,361.0 159.7,361.0 163.4,361.0 167.1,361.8 170.9,362.8 174.6,364.8 177.1,367.3 179.6,369.8 182.6,371.8 185.8,371.0 189.6,371.0 193.3,371.0 197.1,371.8 199.6,369.8 200.0,369.3 203.0,368.5 205.5,366.0 208.7,364.8 211.2,365.3 215.0,366.0 217.5,368.5 221.2,371.0 224.9,373.5 229.9,373.5 234.9,373.5 238.7,372.8 241.1,374.3 244.9,375.3 248.6,378.5 251.9,381.0 254.9,380.2 257.9,377.8 262.3,377.8 266.1,378.5 271.1,378.5 274.8,378.5 278.6,377.8 282.3,376.8 287.3,376.8 293.5,376.8 299.8,377.3 304.7,377.8 308.5,379.3 312.2,381.0 316.0,382.2 319.7,383.5 323.4,384.7 327.2,386.0 330.9,388.5 334.7,391.7 338.4,391.7 342.1,391.7 347.1,392.2 352.1,391.7 357.1,391.7 362.1,392.2 367.1,393.5 372.1,393.5 375.8,393.5 379.6,391.7 383.3,391.7 385.8,390.2" fill="none" stroke="#4472c4" stroke-width="2.2" stroke-linejoin="miter" stroke-miterlimit="3" stroke-linecap="butt"/>
<polyline points="31.2,390.3 36.2,390.3 39.5,387.8 45.0,387.8 52.4,387.8 54.9,386.1 59.9,385.3 63.7,384.3 66.1,382.3 68.6,381.1 73.6,381.1 78.6,381.1 83.6,382.8 87.3,383.6 91.1,383.6 94.8,385.3 98.6,388.6 102.3,391.8 107.3,393.6 111.0,396.1 114.8,397.8 118.5,401.0 122.3,403.5 124.8,404.8" fill="none" stroke="#ff0000" stroke-width="3.4" stroke-linejoin="miter" stroke-miterlimit="3" stroke-linecap="butt"/>
<rect x="442" y="282" width="351" height="1" fill="#d9d9d9"/>
<text transform="translate(432.5 284.60) scale(1 1.12)" text-anchor="end" class="yl" style="font-size:10.5px">750</text>
<rect x="442" y="304" width="351" height="1" fill="#d9d9d9"/>
<text transform="translate(432.5 306.77) scale(1 1.12)" text-anchor="end" class="yl" style="font-size:10.5px">700</text>
<rect x="442" y="326" width="351" height="1" fill="#d9d9d9"/>
<text transform="translate(432.5 328.93) scale(1 1.12)" text-anchor="end" class="yl" style="font-size:10.5px">650</text>
<rect x="442" y="348" width="351" height="1" fill="#d9d9d9"/>
<text transform="translate(432.5 351.10) scale(1 1.12)" text-anchor="end" class="yl" style="font-size:10.5px">600</text>
<rect x="442" y="370" width="351" height="1" fill="#d9d9d9"/>
<text transform="translate(432.5 373.27) scale(1 1.12)" text-anchor="end" class="yl" style="font-size:10.5px">550</text>
<rect x="442" y="393" width="351" height="1" fill="#d9d9d9"/>
<text transform="translate(432.5 395.43) scale(1 1.12)" text-anchor="end" class="yl" style="font-size:10.5px">500</text>
<rect x="442" y="415" width="351" height="1" fill="#d9d9d9"/>
<text transform="translate(432.5 417.60) scale(1 1.12)" text-anchor="end" class="yl" style="font-size:10.5px">450</text>
<rect x="442" y="415" width="1" height="5" fill="#d9d9d9"/>
<text transform="translate(444.80 430.10) rotate(-45) scale(1 1.15)" text-anchor="end" class="xl" style="font-size:10.0px">01/03</text>
<rect x="465" y="415" width="1" height="5" fill="#d9d9d9"/>
<text transform="translate(468.06 430.10) rotate(-45) scale(1 1.15)" text-anchor="end" class="xl" style="font-size:10.0px">01/27</text>
<rect x="489" y="415" width="1" height="5" fill="#d9d9d9"/>
<text transform="translate(491.32 430.10) rotate(-45) scale(1 1.15)" text-anchor="end" class="xl" style="font-size:10.0px">02/20</text>
<rect x="512" y="415" width="1" height="5" fill="#d9d9d9"/>
<text transform="translate(514.58 430.10) rotate(-45) scale(1 1.15)" text-anchor="end" class="xl" style="font-size:10.0px">03/16</text>
<rect x="535" y="415" width="1" height="5" fill="#d9d9d9"/>
<text transform="translate(537.84 430.10) rotate(-45) scale(1 1.15)" text-anchor="end" class="xl" style="font-size:10.0px">04/09</text>
<rect x="558" y="415" width="1" height="5" fill="#d9d9d9"/>
<text transform="translate(561.10 430.10) rotate(-45) scale(1 1.15)" text-anchor="end" class="xl" style="font-size:10.0px">05/03</text>
<rect x="582" y="415" width="1" height="5" fill="#d9d9d9"/>
<text transform="translate(584.36 430.10) rotate(-45) scale(1 1.15)" text-anchor="end" class="xl" style="font-size:10.0px">05/27</text>
<rect x="605" y="415" width="1" height="5" fill="#d9d9d9"/>
<text transform="translate(607.62 430.10) rotate(-45) scale(1 1.15)" text-anchor="end" class="xl" style="font-size:10.0px">06/20</text>
<rect x="628" y="415" width="1" height="5" fill="#d9d9d9"/>
<text transform="translate(630.88 430.10) rotate(-45) scale(1 1.15)" text-anchor="end" class="xl" style="font-size:10.0px">07/14</text>
<rect x="651" y="415" width="1" height="5" fill="#d9d9d9"/>
<text transform="translate(654.14 430.10) rotate(-45) scale(1 1.15)" text-anchor="end" class="xl" style="font-size:10.0px">08/07</text>
<rect x="675" y="415" width="1" height="5" fill="#d9d9d9"/>
<text transform="translate(677.40 430.10) rotate(-45) scale(1 1.15)" text-anchor="end" class="xl" style="font-size:10.0px">08/31</text>
<rect x="698" y="415" width="1" height="5" fill="#d9d9d9"/>
<text transform="translate(700.66 430.10) rotate(-45) scale(1 1.15)" text-anchor="end" class="xl" style="font-size:10.0px">09/24</text>
<rect x="721" y="415" width="1" height="5" fill="#d9d9d9"/>
<text transform="translate(723.92 430.10) rotate(-45) scale(1 1.15)" text-anchor="end" class="xl" style="font-size:10.0px">10/18</text>
<rect x="744" y="415" width="1" height="5" fill="#d9d9d9"/>
<text transform="translate(747.18 430.10) rotate(-45) scale(1 1.15)" text-anchor="end" class="xl" style="font-size:10.0px">11/11</text>
<rect x="768" y="415" width="1" height="5" fill="#d9d9d9"/>
<text transform="translate(770.44 430.10) rotate(-45) scale(1 1.15)" text-anchor="end" class="xl" style="font-size:10.0px">12/05</text>
<rect x="791" y="415" width="1" height="5" fill="#d9d9d9"/>
<text transform="translate(793.70 430.10) rotate(-45) scale(1 1.15)" text-anchor="end" class="xl" style="font-size:10.0px">12/29</text>
<text x="610.5" y="260.0" text-anchor="middle" class="tt" style="font-size:11.9px">秦皇岛港口5000大卡平仓价</text>
<line x1="523.5" y1="462" x2="545.5" y2="462" stroke="#ed7d31" stroke-width="2"/>
<text transform="translate(546.5 465.2) scale(1 1.12)" class="lg" style="font-size:9.8px">2018年</text>
<line x1="585.5" y1="462" x2="607.5" y2="462" stroke="#4472c4" stroke-width="2"/>
<text transform="translate(608.8 465.2) scale(1 1.12)" class="lg" style="font-size:9.8px">2019年</text>
<line x1="647.5" y1="462" x2="670.5" y2="462" stroke="#ff0000" stroke-width="3"/>
<text transform="translate(671 465.2) scale(1 1.12)" class="lg" style="font-size:9.8px">2020年</text>
<polyline points="442.5,336.1 445.0,336.1 447.0,332.4 449.5,329.9 451.5,322.4 454.0,321.9 457.0,321.9 459.4,318.7 461.9,316.9 463.9,311.2 466.9,311.2 470.7,311.2 474.4,311.2 476.4,308.7 478.9,305.5 480.6,304.5 483.9,304.5 484.4,311.2 488.1,311.2 489.9,311.2 491.4,319.9 494.4,319.9 496.9,321.2 498.8,328.7 501.3,332.4 503.8,333.6 506.8,346.9 510.6,348.6 513.1,354.8 516.3,357.3 519.3,357.8 521.8,361.1 524.3,364.8 526.8,370.3 529.8,372.3 532.3,374.8 534.8,381.0 537.2,384.8 539.2,393.5 541.7,396.0 544.7,398.5 548.0,398.5 550.5,396.0 551.7,392.7 554.2,391.7 558.7,391.7 561.2,388.5 563.7,384.8 566.7,382.8 569.2,382.8 571.7,381.0 574.2,369.3 576.7,368.6 579.1,364.3 581.6,364.3 585.4,364.3 589.6,364.3 591.6,358.6 594.6,348.6 597.8,347.9 602.8,347.9 606.6,347.9 609.1,349.4 610.0,348.6 615.0,348.6 620.0,348.6 625.0,348.6 630.0,348.6 632.9,348.6 634.9,356.8 637.9,358.6 640.4,359.8 641.9,366.1 643.7,363.6 645.4,364.8 647.4,373.5 649.4,381.0 651.1,383.5 652.9,388.5 654.9,388.5 656.1,383.5 658.6,379.8 661.1,372.8 663.6,373.5 666.9,374.8 669.4,376.0 670.3,380.3 673.6,378.5 674.3,375.3 678.6,374.8 682.3,374.8 686.1,372.8 688.6,371.0 692.3,369.3 694.8,371.0 698.5,371.0 701.0,371.0 702.8,366.8 707.3,366.8 712.2,366.8 714.2,361.1 716.7,355.3 719.7,353.6 722.2,348.6 724.2,344.9 727.2,344.9 729.2,348.6 733.4,348.6 739.7,348.6 746.7,348.6 748.4,357.3 750.9,361.1 754.1,362.3 756.6,366.1 759.6,366.8 762.1,364.8 765.9,363.6 769.6,364.3 772.1,366.1 775.1,368.6 778.3,369.3 782.1,370.3 784.6,373.5 787.1,376.8 789.1,379.8 790.0,391.7 792.0,392.2" fill="none" stroke="#ed7d31" stroke-width="2.2" stroke-linejoin="miter" stroke-miterlimit="3" stroke-linecap="butt"/>
<polyline points="442.5,392.7 444.5,387.8 447.0,384.3 449.5,384.3 452.0,388.5 455.7,388.5 458.2,386.8 461.9,386.8 465.7,387.8 469.4,388.5 474.4,388.5 478.1,388.5 483.1,388.5 484.9,382.3 488.1,382.3 490.6,380.3 493.1,381.8 495.6,381.0 498.1,375.3 500.6,369.3 503.1,364.8 506.3,363.6 509.3,366.1 511.8,371.0 514.3,376.0 517.3,380.3 519.3,381.8 523.0,381.8 526.3,382.3 528.0,383.5 530.5,383.5 534.3,381.0 536.8,378.5 539.2,376.8 543.0,376.8 545.5,377.3 548.0,379.8 550.5,381.8 554.2,381.8 557.9,381.8 561.7,381.8 565.4,381.8 569.2,381.8 572.9,381.8 576.7,381.0 580.4,382.8 584.1,384.3 587.9,387.3 591.6,388.5 594.1,387.3 597.8,386.8 601.6,386.0 605.3,386.0 607.8,384.8 610.0,382.8 612.5,380.3 616.2,377.8 621.2,377.8 625.0,379.3 628.7,381.8 632.4,384.8 635.4,386.8 639.9,386.8 643.7,385.3 647.4,384.8 651.1,386.0 654.9,388.5 658.6,389.8 662.4,390.2 666.1,389.3 669.9,386.0 673.6,387.3 677.3,387.8 682.3,387.3 686.1,386.0 689.8,384.8 694.8,384.8 699.8,384.8 706.0,384.8 712.2,384.8 717.2,386.8 722.2,389.3 726.0,391.0 730.9,393.5 734.7,394.2 738.4,397.7 742.2,401.0 747.2,400.2 752.1,399.2 757.1,397.7 762.1,397.2 767.1,396.7 772.1,397.7 777.1,398.5 782.1,398.5 787.1,397.2 790.8,396.7 793.3,395.2" fill="none" stroke="#4472c4" stroke-width="2.2" stroke-linejoin="miter" stroke-miterlimit="3" stroke-linecap="butt"/>
<polyline points="442.5,395.3 448.2,395.3 451.5,392.8 455.7,391.8 460.7,391.8 464.4,391.8 468.2,390.3 473.2,389.4 476.9,386.9 479.4,385.4 484.4,385.4 489.4,385.4 493.1,386.1 496.9,387.4 502.3,387.9 506.3,391.8 510.6,395.3 514.3,397.8 518.8,399.8 523.0,402.8 526.3,406.1 529.3,409.8 531.8,411.8 534.3,412.8" fill="none" stroke="#ff0000" stroke-width="3.4" stroke-linejoin="miter" stroke-miterlimit="3" stroke-linecap="butt"/>
</svg>
</body></html>
